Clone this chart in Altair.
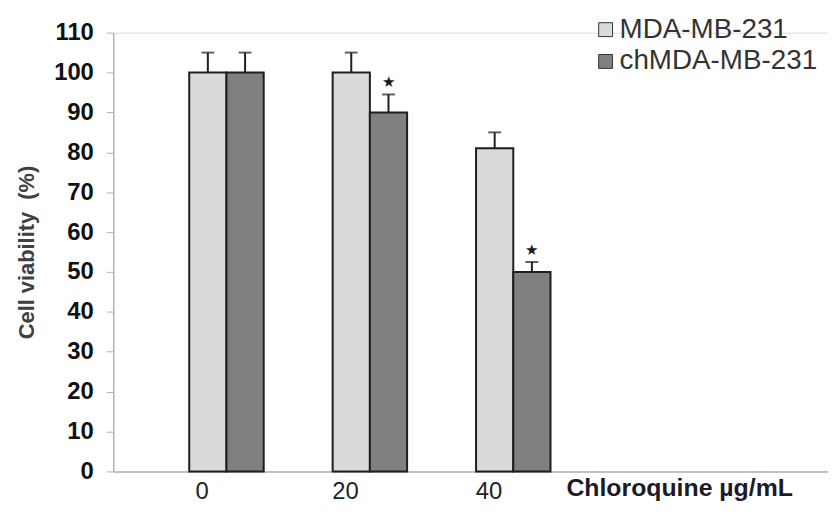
import altair as alt
import pandas as pd

# ---- data ----
concentrations = [0, 20, 40]
series_names = ["MDA-MB-231", "chMDA-MB-231"]
mda_values = [100, 100, 81]
mda_errors = [5, 5, 4]
ch_values = [100, 90, 50]
ch_errors = [5, 4.5, 2.5]
star_conc = [20, 40]
star_y = [97.5, 55.5]
x_tick_labels = [0, 20, 40]
y_ticks = list(range(0, 111, 10))

rows = []
for c, v, e in zip(concentrations, mda_values, mda_errors):
    rows.append({"conc": c, "series": series_names[0], "value": v, "top": v + e})
for c, v, e in zip(concentrations, ch_values, ch_errors):
    rows.append({"conc": c, "series": series_names[1], "value": v, "top": v + e})
df = pd.DataFrame(rows)
stars = pd.DataFrame({"conc": star_conc, "y": star_y})

FONT = "Liberation Sans"
BAR_W = 37.5
OFF = BAR_W / 2
EDGE = "#1f1f1f"

x_scale = alt.Scale(domain=[-15.1, 83.2], nice=False, zero=False)
y_scale = alt.Scale(domain=[0, 110], nice=False)

x_axis = alt.Axis(
    values=x_tick_labels, ticks=False, grid=False, labelOffset=-25,
    labelFont=FONT, labelFontSize=24, labelColor="#222222", labelPadding=8,
    domainColor="#b3b3b3", domainWidth=1.5, labelFlush=False,
    title="Chloroquine µg/mL", titleFont=FONT, titleFontSize=25, titleFontWeight="bold",
    titleColor="#1a1a2a", titleAnchor="start", titleAlign="left", titleX=456, titleY=24,
    titleBaseline="alphabetic",
)
y_axis = alt.Axis(
    values=y_ticks, grid=False, tickSize=7, tickColor="#b3b3b3", domainColor="#b3b3b3",
    domainWidth=1.5, labelFont=FONT, labelFontSize=24, labelFontWeight="bold",
    labelColor="#111111", labelPadding=13,
    title="Cell viability \u00a0(%)", titleFont=FONT, titleFontSize=22, titleFontWeight="bold",
    titleColor="#404040", titlePadding=15,
)

color = alt.Color(
    "series:N",
    scale=alt.Scale(domain=series_names, range=["#d9d9d9", "#808080"]),
    legend=alt.Legend(
        title=None, orient="none", legendX=482, legendY=-17, symbolType="square",
        symbolSize=196, symbolStrokeColor="#333333", symbolStrokeWidth=1,
        labelFont=FONT, labelFontSize=28, labelColor="#333333", labelOffset=0,
        labelLimit=400, rowPadding=4,
    ),
)

base = alt.Chart(df)
layers = []
for name, off in zip(series_names, [-OFF, OFF]):
    sub = base.transform_filter(alt.datum.series == name)
    layers.append(
        sub.mark_bar(width=BAR_W, xOffset=off, stroke=EDGE, strokeWidth=2).encode(
            x=alt.X("conc:Q", scale=x_scale, axis=x_axis),
            y=alt.Y("value:Q", scale=y_scale, axis=y_axis),
            color=color,
        )
    )
    layers.append(
        sub.mark_rule(xOffset=off, color=EDGE, strokeWidth=2).encode(
            x="conc:Q", y="value:Q", y2="top:Q"
        )
    )
    layers.append(
        sub.mark_tick(orient="horizontal", size=13, thickness=2, xOffset=off, color=EDGE).encode(
            x="conc:Q", y="top:Q"
        )
    )

star_layer = alt.Chart(stars).mark_text(
    text="★", fontSize=15, color="#1a1a1a", xOffset=OFF, baseline="middle"
).encode(x="conc:Q", y="y:Q")
layers.append(star_layer)

chart = alt.layer(*layers).properties(
    width=720, height=442, autosize="none",
    padding={"left": 106, "top": 23, "right": 0, "bottom": 30},
).configure_view(stroke=None).configure(background="white")

chart.save("out.html", embed_options={"renderer": "svg", "actions": False})
